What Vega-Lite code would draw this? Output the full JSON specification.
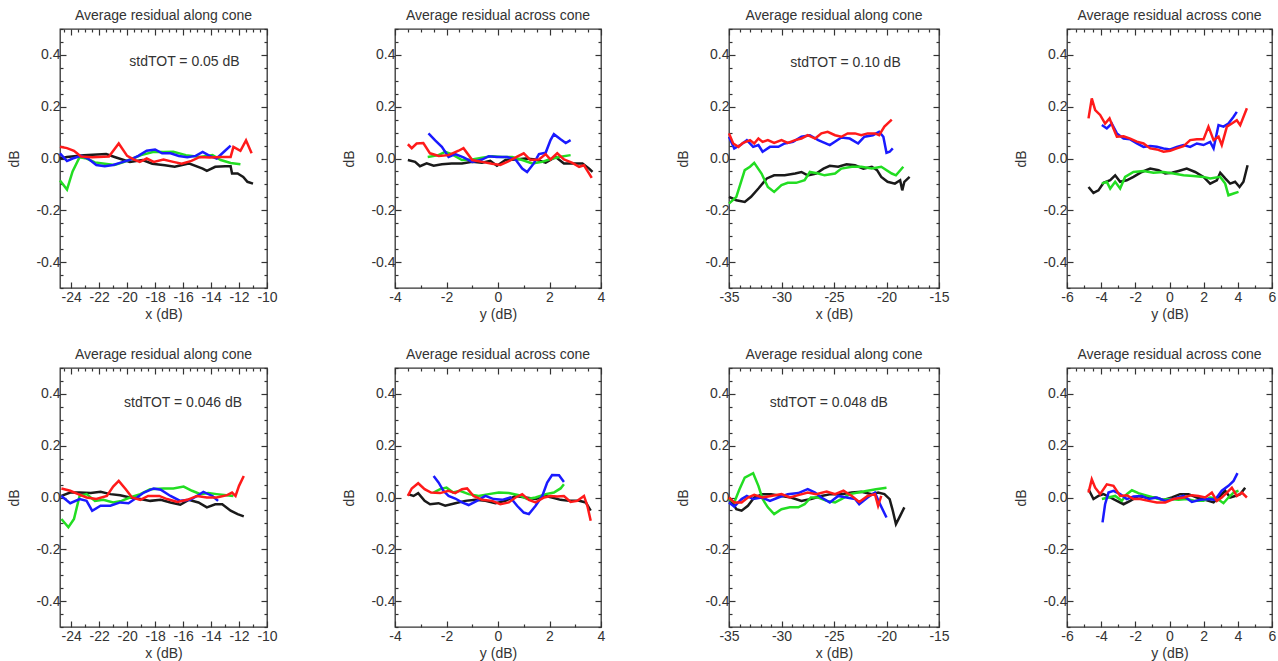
{
"$schema": "https://vega.github.io/schema/vega-lite/v6.json",
"padding": {"left": 7, "top": 8, "right": 0, "bottom": 0},
"background": "white",
"config": {
  "font": "Liberation Sans",
  "view": {"stroke": "#333333", "strokeWidth": 1.3},
  "title": {"font": "Liberation Sans", "fontSize": 14, "fontWeight": "normal", "color": "#333333", "offset": -1},
  "axis": {"domain": false, "grid": false, "labelFont": "Liberation Sans", "labelFontSize": 14, "labelColor": "#333333", "titleFont": "Liberation Sans", "titleFontSize": 14, "titleFontWeight": "normal", "titleColor": "#333333", "tickColor": "#333333", "tickWidth": 1.2, "labelOverlap": false, "labelFlush": false, "labelBound": false},
  "axisX": {"labelPadding": 8, "titlePadding": 0, "labelOverlap": false},
  "axisY": {"labelPadding": 6, "titlePadding": 14, "labelOverlap": false}
},
"datasets": {
"notes": [
{"p":1,"x":-15.9,"y":0.373,"label":"stdTOT = 0.05 dB"},
{"p":3,"x":-23.9,"y":0.37,"label":"stdTOT = 0.10  dB"},
{"p":5,"x":-16.0,"y":0.365,"label":"stdTOT = 0.046 dB"},
{"p":7,"x":-25.5,"y":0.365,"label":"stdTOT = 0.048 dB"}
],
"lines": [
{"p":1,"s":"black","x":-24.8,"y":0.0},{"p":1,"s":"black","x":-24.3,"y":0.006},{"p":1,"s":"black","x":-23.1,"y":0.013},{"p":1,"s":"black","x":-21.5,"y":0.017},{"p":1,"s":"black","x":-20.9,"y":0.006},{"p":1,"s":"black","x":-19.8,"y":-0.013},{"p":1,"s":"black","x":-18.9,"y":-0.006},{"p":1,"s":"black","x":-18.2,"y":-0.02},{"p":1,"s":"black","x":-17.3,"y":-0.026},{"p":1,"s":"black","x":-16.6,"y":-0.032},{"p":1,"s":"black","x":-15.6,"y":-0.019},{"p":1,"s":"black","x":-14.6,"y":-0.039},{"p":1,"s":"black","x":-14.3,"y":-0.048},{"p":1,"s":"black","x":-13.7,"y":-0.032},{"p":1,"s":"black","x":-13.0,"y":-0.03},{"p":1,"s":"black","x":-12.6,"y":-0.03},{"p":1,"s":"black","x":-12.5,"y":-0.058},{"p":1,"s":"black","x":-12.1,"y":-0.058},{"p":1,"s":"black","x":-11.7,"y":-0.071},{"p":1,"s":"black","x":-11.4,"y":-0.09},{"p":1,"s":"black","x":-11.0,"y":-0.097},
{"p":1,"s":"green","x":-24.8,"y":-0.085},{"p":1,"s":"green","x":-24.3,"y":-0.12},{"p":1,"s":"green","x":-23.9,"y":-0.05},{"p":1,"s":"green","x":-23.4,"y":0.005},{"p":1,"s":"green","x":-22.9,"y":0.0},{"p":1,"s":"green","x":-22.3,"y":-0.015},{"p":1,"s":"green","x":-21.6,"y":-0.02},{"p":1,"s":"green","x":-20.9,"y":-0.025},{"p":1,"s":"green","x":-20.3,"y":-0.015},{"p":1,"s":"green","x":-19.6,"y":0.0},{"p":1,"s":"green","x":-19.0,"y":0.013},{"p":1,"s":"green","x":-18.1,"y":0.026},{"p":1,"s":"green","x":-17.4,"y":0.025},{"p":1,"s":"green","x":-16.7,"y":0.026},{"p":1,"s":"green","x":-15.8,"y":0.013},{"p":1,"s":"green","x":-14.8,"y":0.006},{"p":1,"s":"green","x":-13.9,"y":0.013},{"p":1,"s":"green","x":-13.3,"y":-0.006},{"p":1,"s":"green","x":-12.6,"y":-0.017},{"p":1,"s":"green","x":-11.9,"y":-0.022},
{"p":1,"s":"blue","x":-24.8,"y":0.02},{"p":1,"s":"blue","x":-24.3,"y":-0.01},{"p":1,"s":"blue","x":-23.9,"y":0.0},{"p":1,"s":"blue","x":-23.3,"y":0.01},{"p":1,"s":"blue","x":-22.8,"y":0.0},{"p":1,"s":"blue","x":-22.2,"y":-0.025},{"p":1,"s":"blue","x":-21.6,"y":-0.03},{"p":1,"s":"blue","x":-21.0,"y":-0.025},{"p":1,"s":"blue","x":-20.4,"y":-0.015},{"p":1,"s":"blue","x":-19.8,"y":-0.005},{"p":1,"s":"blue","x":-19.2,"y":0.01},{"p":1,"s":"blue","x":-18.6,"y":0.03},{"p":1,"s":"blue","x":-18.0,"y":0.035},{"p":1,"s":"blue","x":-17.5,"y":0.02},{"p":1,"s":"blue","x":-16.9,"y":0.02},{"p":1,"s":"blue","x":-16.3,"y":0.01},{"p":1,"s":"blue","x":-15.7,"y":0.005},{"p":1,"s":"blue","x":-15.1,"y":0.01},{"p":1,"s":"blue","x":-14.6,"y":0.025},{"p":1,"s":"blue","x":-14.1,"y":0.01},{"p":1,"s":"blue","x":-13.6,"y":0.0},{"p":1,"s":"blue","x":-13.0,"y":0.03},{"p":1,"s":"blue","x":-12.6,"y":0.05},
{"p":1,"s":"red","x":-24.8,"y":0.045},{"p":1,"s":"red","x":-24.3,"y":0.04},{"p":1,"s":"red","x":-23.8,"y":0.03},{"p":1,"s":"red","x":-23.3,"y":0.008},{"p":1,"s":"red","x":-22.5,"y":0.005},{"p":1,"s":"red","x":-21.3,"y":0.008},{"p":1,"s":"red","x":-20.6,"y":0.058},{"p":1,"s":"red","x":-20.0,"y":0.01},{"p":1,"s":"red","x":-19.5,"y":-0.004},{"p":1,"s":"red","x":-19.1,"y":-0.013},{"p":1,"s":"red","x":-18.6,"y":0.0},{"p":1,"s":"red","x":-18.1,"y":-0.013},{"p":1,"s":"red","x":-17.4,"y":-0.004},{"p":1,"s":"red","x":-16.7,"y":-0.013},{"p":1,"s":"red","x":-16.1,"y":-0.02},{"p":1,"s":"red","x":-15.4,"y":-0.009},{"p":1,"s":"red","x":-14.8,"y":0.006},{"p":1,"s":"red","x":-14.1,"y":0.004},{"p":1,"s":"red","x":-13.3,"y":0.006},{"p":1,"s":"red","x":-12.6,"y":0.006},{"p":1,"s":"red","x":-12.4,"y":0.045},{"p":1,"s":"red","x":-11.9,"y":0.03},{"p":1,"s":"red","x":-11.5,"y":0.07},{"p":1,"s":"red","x":-11.1,"y":0.02},

{"p":2,"s":"black","x":-3.5,"y":-0.006},{"p":2,"s":"black","x":-3.22,"y":-0.013},{"p":2,"s":"black","x":-3.03,"y":-0.03},{"p":2,"s":"black","x":-2.77,"y":-0.019},{"p":2,"s":"black","x":-2.5,"y":-0.028},{"p":2,"s":"black","x":-2.18,"y":-0.022},{"p":2,"s":"black","x":-1.8,"y":-0.019},{"p":2,"s":"black","x":-1.4,"y":-0.019},{"p":2,"s":"black","x":-1.0,"y":-0.013},{"p":2,"s":"black","x":-0.62,"y":-0.016},{"p":2,"s":"black","x":-0.3,"y":-0.009},{"p":2,"s":"black","x":-0.04,"y":-0.028},{"p":2,"s":"black","x":0.29,"y":-0.006},{"p":2,"s":"black","x":0.68,"y":-0.004},{"p":2,"s":"black","x":1.07,"y":0.0},{"p":2,"s":"black","x":1.46,"y":-0.004},{"p":2,"s":"black","x":1.85,"y":-0.016},{"p":2,"s":"black","x":2.24,"y":0.006},{"p":2,"s":"black","x":2.56,"y":-0.019},{"p":2,"s":"black","x":2.95,"y":-0.019},{"p":2,"s":"black","x":3.28,"y":-0.019},{"p":2,"s":"black","x":3.54,"y":-0.039},{"p":2,"s":"black","x":3.67,"y":-0.052},
{"p":2,"s":"green","x":-2.73,"y":0.006},{"p":2,"s":"green","x":-2.31,"y":0.013},{"p":2,"s":"green","x":-2.05,"y":0.026},{"p":2,"s":"green","x":-1.8,"y":0.017},{"p":2,"s":"green","x":-1.4,"y":-0.006},{"p":2,"s":"green","x":-1.0,"y":-0.004},{"p":2,"s":"green","x":-0.62,"y":0.003},{"p":2,"s":"green","x":-0.23,"y":0.009},{"p":2,"s":"green","x":0.16,"y":0.006},{"p":2,"s":"green","x":0.55,"y":0.006},{"p":2,"s":"green","x":0.94,"y":-0.006},{"p":2,"s":"green","x":1.33,"y":-0.019},{"p":2,"s":"green","x":1.72,"y":-0.013},{"p":2,"s":"green","x":1.98,"y":-0.004},{"p":2,"s":"green","x":2.37,"y":0.006},{"p":2,"s":"green","x":2.82,"y":0.013},
{"p":2,"s":"blue","x":-2.7,"y":0.097},{"p":2,"s":"blue","x":-2.44,"y":0.07},{"p":2,"s":"blue","x":-2.18,"y":0.045},{"p":2,"s":"blue","x":-1.92,"y":0.006},{"p":2,"s":"blue","x":-1.66,"y":0.017},{"p":2,"s":"blue","x":-1.34,"y":0.004},{"p":2,"s":"blue","x":-1.0,"y":-0.013},{"p":2,"s":"blue","x":-0.62,"y":-0.004},{"p":2,"s":"blue","x":-0.36,"y":0.009},{"p":2,"s":"blue","x":-0.04,"y":0.006},{"p":2,"s":"blue","x":0.35,"y":0.006},{"p":2,"s":"blue","x":0.68,"y":-0.004},{"p":2,"s":"blue","x":0.94,"y":-0.039},{"p":2,"s":"blue","x":1.13,"y":-0.052},{"p":2,"s":"blue","x":1.39,"y":-0.019},{"p":2,"s":"blue","x":1.59,"y":0.017},{"p":2,"s":"blue","x":1.85,"y":0.022},{"p":2,"s":"blue","x":2.04,"y":0.071},{"p":2,"s":"blue","x":2.17,"y":0.094},{"p":2,"s":"blue","x":2.43,"y":0.074},{"p":2,"s":"blue","x":2.63,"y":0.06},{"p":2,"s":"blue","x":2.82,"y":0.071},
{"p":2,"s":"red","x":-3.5,"y":0.055},{"p":2,"s":"red","x":-3.35,"y":0.04},{"p":2,"s":"red","x":-3.16,"y":0.058},{"p":2,"s":"red","x":-2.9,"y":0.06},{"p":2,"s":"red","x":-2.64,"y":0.02},{"p":2,"s":"red","x":-2.3,"y":0.01},{"p":2,"s":"red","x":-1.92,"y":0.013},{"p":2,"s":"red","x":-1.53,"y":0.03},{"p":2,"s":"red","x":-1.34,"y":0.04},{"p":2,"s":"red","x":-1.0,"y":-0.006},{"p":2,"s":"red","x":-0.62,"y":-0.013},{"p":2,"s":"red","x":-0.23,"y":-0.02},{"p":2,"s":"red","x":0.09,"y":-0.025},{"p":2,"s":"red","x":0.42,"y":-0.01},{"p":2,"s":"red","x":0.8,"y":0.01},{"p":2,"s":"red","x":1.0,"y":0.02},{"p":2,"s":"red","x":1.26,"y":-0.006},{"p":2,"s":"red","x":1.59,"y":-0.004},{"p":2,"s":"red","x":1.85,"y":0.017},{"p":2,"s":"red","x":2.04,"y":-0.004},{"p":2,"s":"red","x":2.3,"y":0.02},{"p":2,"s":"red","x":2.56,"y":-0.004},{"p":2,"s":"red","x":2.89,"y":-0.017},{"p":2,"s":"red","x":3.15,"y":-0.032},{"p":2,"s":"red","x":3.34,"y":-0.026},{"p":2,"s":"red","x":3.54,"y":-0.058},{"p":2,"s":"red","x":3.64,"y":-0.075},

{"p":3,"s":"black","x":-35,"y":-0.148},{"p":3,"s":"black","x":-34.3,"y":-0.161},{"p":3,"s":"black","x":-33.5,"y":-0.168},{"p":3,"s":"black","x":-32.9,"y":-0.148},{"p":3,"s":"black","x":-32.2,"y":-0.116},{"p":3,"s":"black","x":-31.4,"y":-0.077},{"p":3,"s":"black","x":-30.7,"y":-0.065},{"p":3,"s":"black","x":-29.7,"y":-0.065},{"p":3,"s":"black","x":-28.7,"y":-0.058},{"p":3,"s":"black","x":-28.1,"y":-0.052},{"p":3,"s":"black","x":-27.5,"y":-0.065},{"p":3,"s":"black","x":-26.7,"y":-0.058},{"p":3,"s":"black","x":-26.0,"y":-0.039},{"p":3,"s":"black","x":-25.4,"y":-0.028},{"p":3,"s":"black","x":-24.6,"y":-0.032},{"p":3,"s":"black","x":-23.8,"y":-0.022},{"p":3,"s":"black","x":-23.0,"y":-0.026},{"p":3,"s":"black","x":-22.2,"y":-0.039},{"p":3,"s":"black","x":-21.4,"y":-0.032},{"p":3,"s":"black","x":-20.9,"y":-0.045},{"p":3,"s":"black","x":-20.5,"y":-0.071},{"p":3,"s":"black","x":-19.9,"y":-0.09},{"p":3,"s":"black","x":-19.2,"y":-0.097},{"p":3,"s":"black","x":-18.7,"y":-0.084},{"p":3,"s":"black","x":-18.5,"y":-0.123},{"p":3,"s":"black","x":-18.3,"y":-0.09},{"p":3,"s":"black","x":-17.8,"y":-0.071},
{"p":3,"s":"green","x":-35,"y":-0.174},{"p":3,"s":"green","x":-34.3,"y":-0.148},{"p":3,"s":"green","x":-33.5,"y":-0.045},{"p":3,"s":"green","x":-33.0,"y":-0.032},{"p":3,"s":"green","x":-32.6,"y":-0.017},{"p":3,"s":"green","x":-31.9,"y":-0.058},{"p":3,"s":"green","x":-31.3,"y":-0.11},{"p":3,"s":"green","x":-30.7,"y":-0.129},{"p":3,"s":"green","x":-30.0,"y":-0.103},{"p":3,"s":"green","x":-29.4,"y":-0.094},{"p":3,"s":"green","x":-28.6,"y":-0.094},{"p":3,"s":"green","x":-27.8,"y":-0.084},{"p":3,"s":"green","x":-27.3,"y":-0.052},{"p":3,"s":"green","x":-26.5,"y":-0.058},{"p":3,"s":"green","x":-25.9,"y":-0.065},{"p":3,"s":"green","x":-24.9,"y":-0.058},{"p":3,"s":"green","x":-24.3,"y":-0.039},{"p":3,"s":"green","x":-23.3,"y":-0.032},{"p":3,"s":"green","x":-22.4,"y":-0.032},{"p":3,"s":"green","x":-21.4,"y":-0.039},{"p":3,"s":"green","x":-20.5,"y":-0.032},{"p":3,"s":"green","x":-19.5,"y":-0.058},{"p":3,"s":"green","x":-19.1,"y":-0.065},{"p":3,"s":"green","x":-18.4,"y":-0.032},
{"p":3,"s":"blue","x":-35,"y":0.084},{"p":3,"s":"blue","x":-34.5,"y":0.039},{"p":3,"s":"blue","x":-33.8,"y":0.055},{"p":3,"s":"blue","x":-33.3,"y":0.071},{"p":3,"s":"blue","x":-32.7,"y":0.045},{"p":3,"s":"blue","x":-32.2,"y":0.052},{"p":3,"s":"blue","x":-31.8,"y":0.026},{"p":3,"s":"blue","x":-31.1,"y":0.045},{"p":3,"s":"blue","x":-30.3,"y":0.045},{"p":3,"s":"blue","x":-29.7,"y":0.058},{"p":3,"s":"blue","x":-28.9,"y":0.064},{"p":3,"s":"blue","x":-28.1,"y":0.084},{"p":3,"s":"blue","x":-27.3,"y":0.09},{"p":3,"s":"blue","x":-26.5,"y":0.071},{"p":3,"s":"blue","x":-25.4,"y":0.052},{"p":3,"s":"blue","x":-24.3,"y":0.081},{"p":3,"s":"blue","x":-23.5,"y":0.077},{"p":3,"s":"blue","x":-22.7,"y":0.058},{"p":3,"s":"blue","x":-22.1,"y":0.084},{"p":3,"s":"blue","x":-21.3,"y":0.09},{"p":3,"s":"blue","x":-20.7,"y":0.103},{"p":3,"s":"blue","x":-20.3,"y":0.084},{"p":3,"s":"blue","x":-20.0,"y":0.022},{"p":3,"s":"blue","x":-19.7,"y":0.026},{"p":3,"s":"blue","x":-19.4,"y":0.039},
{"p":3,"s":"red","x":-35,"y":0.097},{"p":3,"s":"red","x":-34.6,"y":0.058},{"p":3,"s":"red","x":-34.1,"y":0.045},{"p":3,"s":"red","x":-33.7,"y":0.06},{"p":3,"s":"red","x":-33.0,"y":0.071},{"p":3,"s":"red","x":-32.6,"y":0.058},{"p":3,"s":"red","x":-32.2,"y":0.077},{"p":3,"s":"red","x":-31.8,"y":0.064},{"p":3,"s":"red","x":-31.3,"y":0.071},{"p":3,"s":"red","x":-30.7,"y":0.06},{"p":3,"s":"red","x":-30.0,"y":0.071},{"p":3,"s":"red","x":-29.4,"y":0.06},{"p":3,"s":"red","x":-28.7,"y":0.071},{"p":3,"s":"red","x":-28.1,"y":0.077},{"p":3,"s":"red","x":-27.5,"y":0.09},{"p":3,"s":"red","x":-26.8,"y":0.077},{"p":3,"s":"red","x":-26.2,"y":0.097},{"p":3,"s":"red","x":-25.6,"y":0.103},{"p":3,"s":"red","x":-24.9,"y":0.09},{"p":3,"s":"red","x":-24.3,"y":0.084},{"p":3,"s":"red","x":-23.7,"y":0.097},{"p":3,"s":"red","x":-23.0,"y":0.097},{"p":3,"s":"red","x":-22.4,"y":0.09},{"p":3,"s":"red","x":-21.8,"y":0.097},{"p":3,"s":"red","x":-21.1,"y":0.097},{"p":3,"s":"red","x":-20.7,"y":0.09},{"p":3,"s":"red","x":-20.2,"y":0.123},{"p":3,"s":"red","x":-19.5,"y":0.15},

{"p":4,"s":"black","x":-4.74,"y":-0.11},{"p":4,"s":"black","x":-4.45,"y":-0.133},{"p":4,"s":"black","x":-4.16,"y":-0.123},{"p":4,"s":"black","x":-3.86,"y":-0.094},{"p":4,"s":"black","x":-3.47,"y":-0.084},{"p":4,"s":"black","x":-3.18,"y":-0.065},{"p":4,"s":"black","x":-2.89,"y":-0.09},{"p":4,"s":"black","x":-2.5,"y":-0.084},{"p":4,"s":"black","x":-2.11,"y":-0.071},{"p":4,"s":"black","x":-1.62,"y":-0.052},{"p":4,"s":"black","x":-1.13,"y":-0.039},{"p":4,"s":"black","x":-0.64,"y":-0.045},{"p":4,"s":"black","x":-0.25,"y":-0.058},{"p":4,"s":"black","x":0.14,"y":-0.055},{"p":4,"s":"black","x":0.53,"y":-0.048},{"p":4,"s":"black","x":1.01,"y":-0.039},{"p":4,"s":"black","x":1.5,"y":-0.052},{"p":4,"s":"black","x":1.99,"y":-0.071},{"p":4,"s":"black","x":2.38,"y":-0.097},{"p":4,"s":"black","x":2.77,"y":-0.084},{"p":4,"s":"black","x":2.97,"y":-0.055},{"p":4,"s":"black","x":3.26,"y":-0.077},{"p":4,"s":"black","x":3.55,"y":-0.097},{"p":4,"s":"black","x":3.84,"y":-0.09},{"p":4,"s":"black","x":4.1,"y":-0.11},{"p":4,"s":"black","x":4.33,"y":-0.09},{"p":4,"s":"black","x":4.57,"y":-0.026},
{"p":4,"s":"green","x":-3.96,"y":-0.097},{"p":4,"s":"green","x":-3.67,"y":-0.09},{"p":4,"s":"green","x":-3.47,"y":-0.116},{"p":4,"s":"green","x":-3.18,"y":-0.09},{"p":4,"s":"green","x":-2.89,"y":-0.116},{"p":4,"s":"green","x":-2.6,"y":-0.071},{"p":4,"s":"green","x":-2.11,"y":-0.052},{"p":4,"s":"green","x":-1.52,"y":-0.048},{"p":4,"s":"green","x":-0.94,"y":-0.055},{"p":4,"s":"green","x":-0.35,"y":-0.052},{"p":4,"s":"green","x":0.23,"y":-0.058},{"p":4,"s":"green","x":0.82,"y":-0.065},{"p":4,"s":"green","x":1.4,"y":-0.068},{"p":4,"s":"green","x":1.99,"y":-0.071},{"p":4,"s":"green","x":2.38,"y":-0.077},{"p":4,"s":"green","x":2.97,"y":-0.071},{"p":4,"s":"green","x":3.26,"y":-0.097},{"p":4,"s":"green","x":3.45,"y":-0.142},{"p":4,"s":"green","x":3.75,"y":-0.135},{"p":4,"s":"green","x":4.04,"y":-0.129},
{"p":4,"s":"blue","x":-3.96,"y":0.129},{"p":4,"s":"blue","x":-3.67,"y":0.116},{"p":4,"s":"blue","x":-3.38,"y":0.135},{"p":4,"s":"blue","x":-3.08,"y":0.097},{"p":4,"s":"blue","x":-2.69,"y":0.077},{"p":4,"s":"blue","x":-2.3,"y":0.074},{"p":4,"s":"blue","x":-1.91,"y":0.058},{"p":4,"s":"blue","x":-1.52,"y":0.045},{"p":4,"s":"blue","x":-1.13,"y":0.048},{"p":4,"s":"blue","x":-0.74,"y":0.045},{"p":4,"s":"blue","x":-0.35,"y":0.039},{"p":4,"s":"blue","x":0.04,"y":0.035},{"p":4,"s":"blue","x":0.43,"y":0.045},{"p":4,"s":"blue","x":0.82,"y":0.052},{"p":4,"s":"blue","x":1.21,"y":0.045},{"p":4,"s":"blue","x":1.6,"y":0.058},{"p":4,"s":"blue","x":1.99,"y":0.052},{"p":4,"s":"blue","x":2.38,"y":0.064},{"p":4,"s":"blue","x":2.58,"y":0.039},{"p":4,"s":"blue","x":2.87,"y":0.129},{"p":4,"s":"blue","x":3.16,"y":0.123},{"p":4,"s":"blue","x":3.45,"y":0.135},{"p":4,"s":"blue","x":3.75,"y":0.161},{"p":4,"s":"blue","x":3.94,"y":0.18},
{"p":4,"s":"red","x":-4.74,"y":0.155},{"p":4,"s":"red","x":-4.55,"y":0.232},{"p":4,"s":"red","x":-4.35,"y":0.187},{"p":4,"s":"red","x":-4.06,"y":0.168},{"p":4,"s":"red","x":-3.77,"y":0.135},{"p":4,"s":"red","x":-3.51,"y":0.155},{"p":4,"s":"red","x":-3.28,"y":0.116},{"p":4,"s":"red","x":-3.08,"y":0.084},{"p":4,"s":"red","x":-2.69,"y":0.086},{"p":4,"s":"red","x":-2.3,"y":0.077},{"p":4,"s":"red","x":-1.91,"y":0.065},{"p":4,"s":"red","x":-1.52,"y":0.058},{"p":4,"s":"red","x":-1.13,"y":0.039},{"p":4,"s":"red","x":-0.74,"y":0.035},{"p":4,"s":"red","x":-0.35,"y":0.026},{"p":4,"s":"red","x":0.04,"y":0.03},{"p":4,"s":"red","x":0.43,"y":0.039},{"p":4,"s":"red","x":0.82,"y":0.048},{"p":4,"s":"red","x":1.21,"y":0.071},{"p":4,"s":"red","x":1.6,"y":0.074},{"p":4,"s":"red","x":1.99,"y":0.074},{"p":4,"s":"red","x":2.28,"y":0.123},{"p":4,"s":"red","x":2.58,"y":0.071},{"p":4,"s":"red","x":2.87,"y":0.084},{"p":4,"s":"red","x":3.06,"y":0.052},{"p":4,"s":"red","x":3.36,"y":0.123},{"p":4,"s":"red","x":3.65,"y":0.135},{"p":4,"s":"red","x":3.94,"y":0.148},{"p":4,"s":"red","x":4.14,"y":0.129},{"p":4,"s":"red","x":4.53,"y":0.194},

{"p":5,"s":"black","x":-24.7,"y":0.006},{"p":5,"s":"black","x":-24.07,"y":0.019},{"p":5,"s":"black","x":-23.4,"y":0.019},{"p":5,"s":"black","x":-22.6,"y":0.017},{"p":5,"s":"black","x":-21.9,"y":0.022},{"p":5,"s":"black","x":-21.2,"y":0.013},{"p":5,"s":"black","x":-20.5,"y":0.009},{"p":5,"s":"black","x":-19.8,"y":0.0},{"p":5,"s":"black","x":-19.06,"y":-0.006},{"p":5,"s":"black","x":-18.35,"y":-0.013},{"p":5,"s":"black","x":-17.6,"y":-0.009},{"p":5,"s":"black","x":-16.9,"y":-0.019},{"p":5,"s":"black","x":-16.2,"y":-0.028},{"p":5,"s":"black","x":-15.6,"y":-0.009},{"p":5,"s":"black","x":-14.9,"y":-0.019},{"p":5,"s":"black","x":-14.3,"y":-0.038},{"p":5,"s":"black","x":-13.7,"y":-0.026},{"p":5,"s":"black","x":-13.2,"y":-0.026},{"p":5,"s":"black","x":-12.6,"y":-0.051},{"p":5,"s":"black","x":-12.1,"y":-0.064},{"p":5,"s":"black","x":-11.66,"y":-0.073},
{"p":5,"s":"green","x":-24.7,"y":-0.083},{"p":5,"s":"green","x":-24.2,"y":-0.115},{"p":5,"s":"green","x":-23.8,"y":-0.083},{"p":5,"s":"green","x":-23.4,"y":0.006},{"p":5,"s":"green","x":-22.9,"y":0.013},{"p":5,"s":"green","x":-22.3,"y":-0.013},{"p":5,"s":"green","x":-21.7,"y":-0.009},{"p":5,"s":"green","x":-21.0,"y":-0.019},{"p":5,"s":"green","x":-20.4,"y":-0.013},{"p":5,"s":"green","x":-19.8,"y":0.0},{"p":5,"s":"green","x":-19.06,"y":0.013},{"p":5,"s":"green","x":-18.35,"y":0.032},{"p":5,"s":"green","x":-17.4,"y":0.035},{"p":5,"s":"green","x":-16.7,"y":0.035},{"p":5,"s":"green","x":-15.96,"y":0.042},{"p":5,"s":"green","x":-15.36,"y":0.026},{"p":5,"s":"green","x":-14.76,"y":0.013},{"p":5,"s":"green","x":-14.2,"y":0.017},{"p":5,"s":"green","x":-13.6,"y":0.013},{"p":5,"s":"green","x":-12.9,"y":0.009},{"p":5,"s":"green","x":-12.4,"y":0.006},
{"p":5,"s":"blue","x":-24.7,"y":0.006},{"p":5,"s":"blue","x":-24.07,"y":-0.022},{"p":5,"s":"blue","x":-23.4,"y":-0.006},{"p":5,"s":"blue","x":-22.9,"y":-0.013},{"p":5,"s":"blue","x":-22.5,"y":-0.051},{"p":5,"s":"blue","x":-21.9,"y":-0.032},{"p":5,"s":"blue","x":-21.2,"y":-0.032},{"p":5,"s":"blue","x":-20.5,"y":-0.019},{"p":5,"s":"blue","x":-19.9,"y":-0.022},{"p":5,"s":"blue","x":-19.3,"y":0.0},{"p":5,"s":"blue","x":-18.8,"y":0.019},{"p":5,"s":"blue","x":-18.1,"y":0.035},{"p":5,"s":"blue","x":-17.6,"y":0.03},{"p":5,"s":"blue","x":-16.9,"y":0.006},{"p":5,"s":"blue","x":-16.2,"y":-0.013},{"p":5,"s":"blue","x":-15.5,"y":-0.009},{"p":5,"s":"blue","x":-15.0,"y":0.006},{"p":5,"s":"blue","x":-14.55,"y":0.022},{"p":5,"s":"blue","x":-13.9,"y":0.006},{"p":5,"s":"blue","x":-13.5,"y":-0.013},
{"p":5,"s":"red","x":-24.7,"y":0.035},{"p":5,"s":"red","x":-24.07,"y":0.026},{"p":5,"s":"red","x":-23.5,"y":0.013},{"p":5,"s":"red","x":-22.9,"y":0.0},{"p":5,"s":"red","x":-22.2,"y":-0.006},{"p":5,"s":"red","x":-21.45,"y":0.006},{"p":5,"s":"red","x":-21.0,"y":0.042},{"p":5,"s":"red","x":-20.6,"y":0.064},{"p":5,"s":"red","x":-20.1,"y":0.032},{"p":5,"s":"red","x":-19.65,"y":0.0},{"p":5,"s":"red","x":-19.06,"y":-0.009},{"p":5,"s":"red","x":-18.5,"y":0.006},{"p":5,"s":"red","x":-17.7,"y":0.006},{"p":5,"s":"red","x":-17.15,"y":-0.006},{"p":5,"s":"red","x":-16.4,"y":-0.017},{"p":5,"s":"red","x":-15.7,"y":-0.009},{"p":5,"s":"red","x":-15.0,"y":0.006},{"p":5,"s":"red","x":-14.3,"y":0.0},{"p":5,"s":"red","x":-13.6,"y":0.0},{"p":5,"s":"red","x":-12.85,"y":0.009},{"p":5,"s":"red","x":-12.5,"y":0.019},{"p":5,"s":"red","x":-12.25,"y":0.006},{"p":5,"s":"red","x":-12.0,"y":0.045},{"p":5,"s":"red","x":-11.66,"y":0.083},

{"p":6,"s":"black","x":-3.5,"y":0.013},{"p":6,"s":"black","x":-3.28,"y":0.006},{"p":6,"s":"black","x":-3.1,"y":0.017},{"p":6,"s":"black","x":-2.85,"y":-0.013},{"p":6,"s":"black","x":-2.64,"y":-0.026},{"p":6,"s":"black","x":-2.31,"y":-0.022},{"p":6,"s":"black","x":-2.05,"y":-0.032},{"p":6,"s":"black","x":-1.66,"y":-0.022},{"p":6,"s":"black","x":-1.27,"y":-0.013},{"p":6,"s":"black","x":-0.88,"y":-0.009},{"p":6,"s":"black","x":-0.49,"y":-0.013},{"p":6,"s":"black","x":-0.1,"y":-0.022},{"p":6,"s":"black","x":0.29,"y":-0.013},{"p":6,"s":"black","x":0.68,"y":0.006},{"p":6,"s":"black","x":1.07,"y":0.0},{"p":6,"s":"black","x":1.46,"y":-0.006},{"p":6,"s":"black","x":1.85,"y":0.006},{"p":6,"s":"black","x":2.1,"y":0.0},{"p":6,"s":"black","x":2.43,"y":-0.009},{"p":6,"s":"black","x":2.76,"y":-0.013},{"p":6,"s":"black","x":3.15,"y":-0.013},{"p":6,"s":"black","x":3.41,"y":-0.019},{"p":6,"s":"black","x":3.6,"y":-0.051},
{"p":6,"s":"green","x":-2.5,"y":0.019},{"p":6,"s":"green","x":-2.25,"y":0.032},{"p":6,"s":"green","x":-2.0,"y":0.038},{"p":6,"s":"green","x":-1.74,"y":0.019},{"p":6,"s":"green","x":-1.48,"y":0.026},{"p":6,"s":"green","x":-1.14,"y":0.013},{"p":6,"s":"green","x":-0.75,"y":0.006},{"p":6,"s":"green","x":-0.36,"y":0.013},{"p":6,"s":"green","x":0.03,"y":0.019},{"p":6,"s":"green","x":0.42,"y":0.017},{"p":6,"s":"green","x":0.81,"y":0.009},{"p":6,"s":"green","x":1.13,"y":-0.006},{"p":6,"s":"green","x":1.46,"y":0.0},{"p":6,"s":"green","x":1.85,"y":0.013},{"p":6,"s":"green","x":2.17,"y":0.019},{"p":6,"s":"green","x":2.43,"y":0.035},{"p":6,"s":"green","x":2.56,"y":0.051},
{"p":6,"s":"blue","x":-2.5,"y":0.083},{"p":6,"s":"blue","x":-2.31,"y":0.058},{"p":6,"s":"blue","x":-2.12,"y":0.026},{"p":6,"s":"blue","x":-1.92,"y":0.006},{"p":6,"s":"blue","x":-1.66,"y":-0.004},{"p":6,"s":"blue","x":-1.4,"y":-0.019},{"p":6,"s":"blue","x":-1.14,"y":-0.029},{"p":6,"s":"blue","x":-0.82,"y":-0.013},{"p":6,"s":"blue","x":-0.49,"y":0.006},{"p":6,"s":"blue","x":-0.17,"y":-0.006},{"p":6,"s":"blue","x":0.16,"y":-0.009},{"p":6,"s":"blue","x":0.48,"y":0.0},{"p":6,"s":"blue","x":0.74,"y":-0.032},{"p":6,"s":"blue","x":1.0,"y":-0.058},{"p":6,"s":"blue","x":1.2,"y":-0.064},{"p":6,"s":"blue","x":1.46,"y":-0.032},{"p":6,"s":"blue","x":1.72,"y":0.006},{"p":6,"s":"blue","x":1.91,"y":0.058},{"p":6,"s":"blue","x":2.1,"y":0.087},{"p":6,"s":"blue","x":2.37,"y":0.086},{"p":6,"s":"blue","x":2.56,"y":0.06},
{"p":6,"s":"red","x":-3.5,"y":0.006},{"p":6,"s":"red","x":-3.35,"y":0.035},{"p":6,"s":"red","x":-3.1,"y":0.055},{"p":6,"s":"red","x":-2.85,"y":0.032},{"p":6,"s":"red","x":-2.6,"y":0.019},{"p":6,"s":"red","x":-2.25,"y":0.017},{"p":6,"s":"red","x":-1.92,"y":0.026},{"p":6,"s":"red","x":-1.66,"y":0.017},{"p":6,"s":"red","x":-1.4,"y":0.032},{"p":6,"s":"red","x":-1.2,"y":0.035},{"p":6,"s":"red","x":-0.95,"y":0.006},{"p":6,"s":"red","x":-0.62,"y":-0.009},{"p":6,"s":"red","x":-0.23,"y":-0.013},{"p":6,"s":"red","x":0.09,"y":-0.026},{"p":6,"s":"red","x":0.42,"y":-0.019},{"p":6,"s":"red","x":0.68,"y":0.0},{"p":6,"s":"red","x":0.94,"y":0.013},{"p":6,"s":"red","x":1.2,"y":-0.009},{"p":6,"s":"red","x":1.46,"y":-0.019},{"p":6,"s":"red","x":1.79,"y":0.0},{"p":6,"s":"red","x":2.04,"y":0.006},{"p":6,"s":"red","x":2.3,"y":0.004},{"p":6,"s":"red","x":2.56,"y":0.006},{"p":6,"s":"red","x":2.82,"y":-0.017},{"p":6,"s":"red","x":3.08,"y":-0.013},{"p":6,"s":"red","x":3.34,"y":0.006},{"p":6,"s":"red","x":3.47,"y":-0.032},{"p":6,"s":"red","x":3.6,"y":-0.09},

{"p":7,"s":"black","x":-35,"y":0.0},{"p":7,"s":"black","x":-34.3,"y":-0.045},{"p":7,"s":"black","x":-33.8,"y":-0.051},{"p":7,"s":"black","x":-33.2,"y":-0.032},{"p":7,"s":"black","x":-32.6,"y":0.0},{"p":7,"s":"black","x":-31.8,"y":0.013},{"p":7,"s":"black","x":-31.0,"y":0.013},{"p":7,"s":"black","x":-30.0,"y":0.006},{"p":7,"s":"black","x":-29.1,"y":0.0},{"p":7,"s":"black","x":-28.1,"y":-0.013},{"p":7,"s":"black","x":-27.2,"y":-0.006},{"p":7,"s":"black","x":-26.2,"y":0.006},{"p":7,"s":"black","x":-25.3,"y":0.013},{"p":7,"s":"black","x":-24.3,"y":0.013},{"p":7,"s":"black","x":-23.3,"y":0.019},{"p":7,"s":"black","x":-22.4,"y":0.022},{"p":7,"s":"black","x":-21.4,"y":0.013},{"p":7,"s":"black","x":-20.8,"y":0.019},{"p":7,"s":"black","x":-20.2,"y":0.013},{"p":7,"s":"black","x":-19.7,"y":-0.006},{"p":7,"s":"black","x":-19.4,"y":-0.051},{"p":7,"s":"black","x":-19.1,"y":-0.103},{"p":7,"s":"black","x":-18.7,"y":-0.071},{"p":7,"s":"black","x":-18.3,"y":-0.038},
{"p":7,"s":"green","x":-35,"y":-0.006},{"p":7,"s":"green","x":-34.5,"y":-0.019},{"p":7,"s":"green","x":-34.0,"y":0.032},{"p":7,"s":"green","x":-33.5,"y":0.077},{"p":7,"s":"green","x":-32.7,"y":0.094},{"p":7,"s":"green","x":-32.2,"y":0.045},{"p":7,"s":"green","x":-31.8,"y":-0.006},{"p":7,"s":"green","x":-31.3,"y":-0.038},{"p":7,"s":"green","x":-30.7,"y":-0.064},{"p":7,"s":"green","x":-30.0,"y":-0.045},{"p":7,"s":"green","x":-29.2,"y":-0.038},{"p":7,"s":"green","x":-28.4,"y":-0.038},{"p":7,"s":"green","x":-27.8,"y":-0.026},{"p":7,"s":"green","x":-27.2,"y":0.0},{"p":7,"s":"green","x":-26.5,"y":0.0},{"p":7,"s":"green","x":-25.7,"y":-0.013},{"p":7,"s":"green","x":-24.9,"y":-0.019},{"p":7,"s":"green","x":-24.3,"y":-0.006},{"p":7,"s":"green","x":-23.5,"y":0.013},{"p":7,"s":"green","x":-22.7,"y":0.019},{"p":7,"s":"green","x":-21.8,"y":0.026},{"p":7,"s":"green","x":-21.0,"y":0.032},{"p":7,"s":"green","x":-20.0,"y":0.038},
{"p":7,"s":"blue","x":-35,"y":-0.019},{"p":7,"s":"blue","x":-34.5,"y":-0.035},{"p":7,"s":"blue","x":-33.8,"y":-0.006},{"p":7,"s":"blue","x":-33.3,"y":0.006},{"p":7,"s":"blue","x":-32.7,"y":-0.006},{"p":7,"s":"blue","x":-31.9,"y":0.0},{"p":7,"s":"blue","x":-31.1,"y":-0.013},{"p":7,"s":"blue","x":-30.3,"y":0.0},{"p":7,"s":"blue","x":-29.4,"y":0.013},{"p":7,"s":"blue","x":-28.4,"y":0.017},{"p":7,"s":"blue","x":-27.5,"y":0.032},{"p":7,"s":"blue","x":-26.8,"y":0.019},{"p":7,"s":"blue","x":-26.2,"y":0.0},{"p":7,"s":"blue","x":-25.4,"y":-0.019},{"p":7,"s":"blue","x":-24.6,"y":0.006},{"p":7,"s":"blue","x":-23.8,"y":0.0},{"p":7,"s":"blue","x":-23.0,"y":-0.006},{"p":7,"s":"blue","x":-22.6,"y":-0.026},{"p":7,"s":"blue","x":-21.8,"y":0.0},{"p":7,"s":"blue","x":-21.1,"y":0.019},{"p":7,"s":"blue","x":-20.7,"y":-0.019},{"p":7,"s":"blue","x":-20.0,"y":-0.077},
{"p":7,"s":"red","x":-35,"y":0.0},{"p":7,"s":"red","x":-34.5,"y":-0.019},{"p":7,"s":"red","x":-33.8,"y":-0.019},{"p":7,"s":"red","x":-33.2,"y":0.0},{"p":7,"s":"red","x":-32.6,"y":0.01},{"p":7,"s":"red","x":-31.8,"y":0.0},{"p":7,"s":"red","x":-31.0,"y":0.006},{"p":7,"s":"red","x":-30.0,"y":0.013},{"p":7,"s":"red","x":-29.2,"y":0.0},{"p":7,"s":"red","x":-28.4,"y":0.009},{"p":7,"s":"red","x":-27.5,"y":0.019},{"p":7,"s":"red","x":-26.7,"y":0.013},{"p":7,"s":"red","x":-25.7,"y":0.023},{"p":7,"s":"red","x":-24.9,"y":0.013},{"p":7,"s":"red","x":-24.1,"y":0.026},{"p":7,"s":"red","x":-23.3,"y":0.006},{"p":7,"s":"red","x":-22.6,"y":-0.017},{"p":7,"s":"red","x":-21.8,"y":0.006},{"p":7,"s":"red","x":-21.1,"y":0.013},{"p":7,"s":"red","x":-20.8,"y":-0.032},{"p":7,"s":"red","x":-20.5,"y":0.006},

{"p":8,"s":"black","x":-4.74,"y":0.032},{"p":8,"s":"black","x":-4.45,"y":-0.006},{"p":8,"s":"black","x":-4.16,"y":0.006},{"p":8,"s":"black","x":-3.86,"y":0.013},{"p":8,"s":"black","x":-3.47,"y":0.0},{"p":8,"s":"black","x":-3.08,"y":-0.013},{"p":8,"s":"black","x":-2.69,"y":-0.026},{"p":8,"s":"black","x":-2.3,"y":-0.013},{"p":8,"s":"black","x":-1.82,"y":0.006},{"p":8,"s":"black","x":-1.33,"y":0.0},{"p":8,"s":"black","x":-0.84,"y":0.0},{"p":8,"s":"black","x":-0.35,"y":-0.009},{"p":8,"s":"black","x":0.14,"y":0.0},{"p":8,"s":"black","x":0.62,"y":0.013},{"p":8,"s":"black","x":1.11,"y":0.013},{"p":8,"s":"black","x":1.6,"y":0.0},{"p":8,"s":"black","x":2.09,"y":-0.009},{"p":8,"s":"black","x":2.58,"y":-0.019},{"p":8,"s":"black","x":2.97,"y":0.006},{"p":8,"s":"black","x":3.26,"y":0.026},{"p":8,"s":"black","x":3.55,"y":0.0},{"p":8,"s":"black","x":3.84,"y":0.006},{"p":8,"s":"black","x":4.14,"y":0.013},{"p":8,"s":"black","x":4.43,"y":0.038},
{"p":8,"s":"green","x":-3.96,"y":-0.006},{"p":8,"s":"green","x":-3.57,"y":0.0},{"p":8,"s":"green","x":-3.18,"y":0.006},{"p":8,"s":"green","x":-2.79,"y":-0.013},{"p":8,"s":"green","x":-2.5,"y":0.013},{"p":8,"s":"green","x":-2.2,"y":0.028},{"p":8,"s":"green","x":-1.82,"y":0.017},{"p":8,"s":"green","x":-1.42,"y":0.009},{"p":8,"s":"green","x":-0.94,"y":0.0},{"p":8,"s":"green","x":-0.45,"y":-0.009},{"p":8,"s":"green","x":0.04,"y":-0.006},{"p":8,"s":"green","x":0.53,"y":-0.009},{"p":8,"s":"green","x":1.01,"y":-0.006},{"p":8,"s":"green","x":1.5,"y":-0.013},{"p":8,"s":"green","x":1.99,"y":-0.013},{"p":8,"s":"green","x":2.38,"y":0.0},{"p":8,"s":"green","x":2.77,"y":-0.004},{"p":8,"s":"green","x":3.16,"y":-0.022},{"p":8,"s":"green","x":3.45,"y":0.0},{"p":8,"s":"green","x":3.75,"y":0.019},{"p":8,"s":"green","x":4.04,"y":0.026},
{"p":8,"s":"blue","x":-3.92,"y":-0.096},{"p":8,"s":"blue","x":-3.77,"y":-0.026},{"p":8,"s":"blue","x":-3.57,"y":0.019},{"p":8,"s":"blue","x":-3.28,"y":0.026},{"p":8,"s":"blue","x":-2.89,"y":0.013},{"p":8,"s":"blue","x":-2.5,"y":-0.006},{"p":8,"s":"blue","x":-2.11,"y":0.004},{"p":8,"s":"blue","x":-1.62,"y":0.006},{"p":8,"s":"blue","x":-1.23,"y":-0.006},{"p":8,"s":"blue","x":-0.74,"y":0.0},{"p":8,"s":"blue","x":-0.25,"y":-0.013},{"p":8,"s":"blue","x":0.23,"y":-0.006},{"p":8,"s":"blue","x":0.82,"y":0.006},{"p":8,"s":"blue","x":1.31,"y":-0.017},{"p":8,"s":"blue","x":1.8,"y":-0.009},{"p":8,"s":"blue","x":2.28,"y":-0.006},{"p":8,"s":"blue","x":2.67,"y":-0.009},{"p":8,"s":"blue","x":3.06,"y":0.026},{"p":8,"s":"blue","x":3.45,"y":0.045},{"p":8,"s":"blue","x":3.75,"y":0.064},{"p":8,"s":"blue","x":3.98,"y":0.094},
{"p":8,"s":"red","x":-4.74,"y":0.019},{"p":8,"s":"red","x":-4.55,"y":0.07},{"p":8,"s":"red","x":-4.35,"y":0.038},{"p":8,"s":"red","x":-4.06,"y":0.013},{"p":8,"s":"red","x":-3.67,"y":0.051},{"p":8,"s":"red","x":-3.28,"y":0.045},{"p":8,"s":"red","x":-2.89,"y":0.006},{"p":8,"s":"red","x":-2.5,"y":0.009},{"p":8,"s":"red","x":-2.11,"y":-0.006},{"p":8,"s":"red","x":-1.72,"y":-0.006},{"p":8,"s":"red","x":-1.23,"y":-0.013},{"p":8,"s":"red","x":-0.74,"y":-0.019},{"p":8,"s":"red","x":-0.25,"y":-0.019},{"p":8,"s":"red","x":0.23,"y":-0.006},{"p":8,"s":"red","x":0.82,"y":0.0},{"p":8,"s":"red","x":1.31,"y":0.009},{"p":8,"s":"red","x":1.7,"y":0.006},{"p":8,"s":"red","x":2.09,"y":0.0},{"p":8,"s":"red","x":2.48,"y":0.019},{"p":8,"s":"red","x":2.77,"y":-0.013},{"p":8,"s":"red","x":3.06,"y":0.0},{"p":8,"s":"red","x":3.36,"y":0.019},{"p":8,"s":"red","x":3.65,"y":0.038},{"p":8,"s":"red","x":3.94,"y":0.006},{"p":8,"s":"red","x":4.24,"y":0.019},{"p":8,"s":"red","x":4.53,"y":0.0}
]
},
"columns": 4,
"spacing": {"row": 80, "column": 128},
"bounds": "flush",
"align": "each",
"concat": [
  {"width": 207, "height": 259, "title": "Average residual along cone",
   "layer": [
    {"data": {"name": "lines"}, "transform": [{"filter": "datum.p == 1"}], "mark": {"type": "line", "strokeWidth": 2.5},
     "encoding": {
      "x": {"field": "x", "type": "quantitative", "scale": {"domain": [-24.8, -10], "nice": false, "zero": false},
            "axis": {"title": "x (dB)", "labelOverlap": false, "values": [-24,-23.5,-23,-22.5,-22,-21.5,-21,-20.5,-20,-19.5,-19,-18.5,-18,-17.5,-17,-16.5,-16,-15.5,-15,-14.5,-14,-13.5,-13,-12.5,-12,-11.5,-11,-10.5,-10], "format": "d", "labelExpr": "abs(datum.value % 2) < 0.01 ? replace(datum.label, '−', '-') : ''", "tickSize": {"condition": {"test": "abs(datum.value % 2) < 0.01", "value": -6}, "value": -3}}},
      "y": {"field": "y", "type": "quantitative", "scale": {"domain": [-0.5, 0.5], "nice": false, "zero": false},
            "axis": {"title": "dB", "labelOverlap": false, "values": [-0.5,-0.45,-0.4,-0.35,-0.3,-0.25,-0.2,-0.15,-0.1,-0.05,0,0.05,0.1,0.15,0.2,0.25,0.3,0.35,0.4,0.45,0.5], "format": ".1f", "labelExpr": "abs(round(datum.value*100)) % 20 == 0 ? replace(datum.label, '−', '-') : ''", "tickSize": {"condition": {"test": "abs(round(datum.value*100)) % 20 == 0", "value": -6}, "value": -3}}},
      "color": {"field": "s", "type": "nominal", "scale": {"domain": ["red", "blue", "green", "black"], "range": ["#ff1a1a", "#1a1aff", "#22dd22", "#1a1a1a"]}, "legend": null}
     }},
    {"data": {"name": "lines"}, "transform": [{"filter": "datum.p == 1"}], "mark": {"type": "line", "opacity": 0},
     "encoding": {
      "x": {"field": "x", "type": "quantitative", "scale": {"domain": [-24.8, -10], "nice": false, "zero": false},
            "axis": {"orient": "top", "title": null, "labels": false, "values": [-24.5,-24,-23.5,-23,-22.5,-22,-21.5,-21,-20.5,-20,-19.5,-19,-18.5,-18,-17.5,-17,-16.5,-16,-15.5,-15,-14.5,-14,-13.5,-13,-12.5,-12,-11.5,-11,-10.5,-10], "tickSize": {"condition": {"test": "abs(datum.value % 2) < 0.01", "value": -6}, "value": -3}}},
      "y": {"field": "y", "type": "quantitative", "scale": {"domain": [-0.5, 0.5], "nice": false, "zero": false},
            "axis": {"orient": "right", "title": null, "labels": false, "values": [-0.5,-0.45,-0.4,-0.35,-0.3,-0.25,-0.2,-0.15,-0.1,-0.05,0,0.05,0.1,0.15,0.2,0.25,0.3,0.35,0.4,0.45,0.5], "tickSize": {"condition": {"test": "abs(round(datum.value*100)) % 20 == 0", "value": -6}, "value": -3}}},
      "detail": {"field": "s"}
     }},
    {"data": {"name": "notes"}, "transform": [{"filter": "datum.p == 1"}], "mark": {"type": "text", "font": "Liberation Sans", "fontSize": 14, "color": "#333333"},
     "encoding": {"x": {"field": "x", "type": "quantitative", "axis": null, "scale": {"domain": [-24.8, -10], "nice": false, "zero": false}}, "y": {"field": "y", "type": "quantitative", "axis": null, "scale": {"domain": [-0.5, 0.5], "nice": false, "zero": false}}, "text": {"field": "label"}}}
   ],
   "resolve": {"axis": {"x": "independent", "y": "independent"}}
  },
  {"width": 206, "height": 259, "title": "Average residual across cone",
   "layer": [
    {"data": {"name": "lines"}, "transform": [{"filter": "datum.p == 2"}], "mark": {"type": "line", "strokeWidth": 2.5},
     "encoding": {
      "x": {"field": "x", "type": "quantitative", "scale": {"domain": [-4, 4], "nice": false, "zero": false},
            "axis": {"title": "y (dB)", "labelOverlap": false, "values": [-4,-3.5,-3,-2.5,-2,-1.5,-1,-0.5,0,0.5,1,1.5,2,2.5,3,3.5,4], "format": "d", "labelExpr": "abs(datum.value % 2) < 0.01 ? replace(datum.label, '−', '-') : ''", "tickSize": {"condition": {"test": "abs(datum.value % 2) < 0.01", "value": -6}, "value": -3}}},
      "y": {"field": "y", "type": "quantitative", "scale": {"domain": [-0.5, 0.5], "nice": false, "zero": false},
            "axis": {"title": "dB", "labelOverlap": false, "values": [-0.5,-0.45,-0.4,-0.35,-0.3,-0.25,-0.2,-0.15,-0.1,-0.05,0,0.05,0.1,0.15,0.2,0.25,0.3,0.35,0.4,0.45,0.5], "format": ".1f", "labelExpr": "abs(round(datum.value*100)) % 20 == 0 ? replace(datum.label, '−', '-') : ''", "tickSize": {"condition": {"test": "abs(round(datum.value*100)) % 20 == 0", "value": -6}, "value": -3}}},
      "color": {"field": "s", "type": "nominal", "scale": {"domain": ["red", "blue", "green", "black"], "range": ["#ff1a1a", "#1a1aff", "#22dd22", "#1a1a1a"]}, "legend": null}
     }},
    {"data": {"name": "lines"}, "transform": [{"filter": "datum.p == 2"}], "mark": {"type": "line", "opacity": 0},
     "encoding": {
      "x": {"field": "x", "type": "quantitative", "scale": {"domain": [-4, 4], "nice": false, "zero": false},
            "axis": {"orient": "top", "title": null, "labels": false, "values": [-4,-3.5,-3,-2.5,-2,-1.5,-1,-0.5,0,0.5,1,1.5,2,2.5,3,3.5,4], "tickSize": {"condition": {"test": "abs(datum.value % 2) < 0.01", "value": -6}, "value": -3}}},
      "y": {"field": "y", "type": "quantitative", "scale": {"domain": [-0.5, 0.5], "nice": false, "zero": false},
            "axis": {"orient": "right", "title": null, "labels": false, "values": [-0.5,-0.45,-0.4,-0.35,-0.3,-0.25,-0.2,-0.15,-0.1,-0.05,0,0.05,0.1,0.15,0.2,0.25,0.3,0.35,0.4,0.45,0.5], "tickSize": {"condition": {"test": "abs(round(datum.value*100)) % 20 == 0", "value": -6}, "value": -3}}},
      "detail": {"field": "s"}
     }}
   ],
   "resolve": {"axis": {"x": "independent", "y": "independent"}}
  },
  {"width": 210, "height": 259, "title": "Average residual along cone",
   "layer": [
    {"data": {"name": "lines"}, "transform": [{"filter": "datum.p == 3"}], "mark": {"type": "line", "strokeWidth": 2.5},
     "encoding": {
      "x": {"field": "x", "type": "quantitative", "scale": {"domain": [-35, -15], "nice": false, "zero": false},
            "axis": {"title": "x (dB)", "labelOverlap": false, "values": [-35,-34,-33,-32,-31,-30,-29,-28,-27,-26,-25,-24,-23,-22,-21,-20,-19,-18,-17,-16,-15], "format": "d", "labelExpr": "abs(datum.value % 5) < 0.01 ? replace(datum.label, '−', '-') : ''", "tickSize": {"condition": {"test": "abs(datum.value % 5) < 0.01", "value": -6}, "value": -3}}},
      "y": {"field": "y", "type": "quantitative", "scale": {"domain": [-0.5, 0.5], "nice": false, "zero": false},
            "axis": {"title": "dB", "labelOverlap": false, "values": [-0.5,-0.45,-0.4,-0.35,-0.3,-0.25,-0.2,-0.15,-0.1,-0.05,0,0.05,0.1,0.15,0.2,0.25,0.3,0.35,0.4,0.45,0.5], "format": ".1f", "labelExpr": "abs(round(datum.value*100)) % 20 == 0 ? replace(datum.label, '−', '-') : ''", "tickSize": {"condition": {"test": "abs(round(datum.value*100)) % 20 == 0", "value": -6}, "value": -3}}},
      "color": {"field": "s", "type": "nominal", "scale": {"domain": ["red", "blue", "green", "black"], "range": ["#ff1a1a", "#1a1aff", "#22dd22", "#1a1a1a"]}, "legend": null}
     }},
    {"data": {"name": "lines"}, "transform": [{"filter": "datum.p == 3"}], "mark": {"type": "line", "opacity": 0},
     "encoding": {
      "x": {"field": "x", "type": "quantitative", "scale": {"domain": [-35, -15], "nice": false, "zero": false},
            "axis": {"orient": "top", "title": null, "labels": false, "values": [-35,-34,-33,-32,-31,-30,-29,-28,-27,-26,-25,-24,-23,-22,-21,-20,-19,-18,-17,-16,-15], "tickSize": {"condition": {"test": "abs(datum.value % 5) < 0.01", "value": -6}, "value": -3}}},
      "y": {"field": "y", "type": "quantitative", "scale": {"domain": [-0.5, 0.5], "nice": false, "zero": false},
            "axis": {"orient": "right", "title": null, "labels": false, "values": [-0.5,-0.45,-0.4,-0.35,-0.3,-0.25,-0.2,-0.15,-0.1,-0.05,0,0.05,0.1,0.15,0.2,0.25,0.3,0.35,0.4,0.45,0.5], "tickSize": {"condition": {"test": "abs(round(datum.value*100)) % 20 == 0", "value": -6}, "value": -3}}},
      "detail": {"field": "s"}
     }},
    {"data": {"name": "notes"}, "transform": [{"filter": "datum.p == 3"}], "mark": {"type": "text", "font": "Liberation Sans", "fontSize": 14, "color": "#333333"},
     "encoding": {"x": {"field": "x", "type": "quantitative", "axis": null, "scale": {"domain": [-35, -15], "nice": false, "zero": false}}, "y": {"field": "y", "type": "quantitative", "axis": null, "scale": {"domain": [-0.5, 0.5], "nice": false, "zero": false}}, "text": {"field": "label"}}}
   ],
   "resolve": {"axis": {"x": "independent", "y": "independent"}}
  },
  {"width": 205, "height": 259, "title": "Average residual across cone",
   "layer": [
    {"data": {"name": "lines"}, "transform": [{"filter": "datum.p == 4"}], "mark": {"type": "line", "strokeWidth": 2.5},
     "encoding": {
      "x": {"field": "x", "type": "quantitative", "scale": {"domain": [-6, 6], "nice": false, "zero": false},
            "axis": {"title": "y (dB)", "labelOverlap": false, "values": [-6,-5.5,-5,-4.5,-4,-3.5,-3,-2.5,-2,-1.5,-1,-0.5,0,0.5,1,1.5,2,2.5,3,3.5,4,4.5,5,5.5,6], "format": "d", "labelExpr": "abs(datum.value % 2) < 0.01 ? replace(datum.label, '−', '-') : ''", "tickSize": {"condition": {"test": "abs(datum.value % 2) < 0.01", "value": -6}, "value": -3}}},
      "y": {"field": "y", "type": "quantitative", "scale": {"domain": [-0.5, 0.5], "nice": false, "zero": false},
            "axis": {"title": "dB", "labelOverlap": false, "values": [-0.5,-0.45,-0.4,-0.35,-0.3,-0.25,-0.2,-0.15,-0.1,-0.05,0,0.05,0.1,0.15,0.2,0.25,0.3,0.35,0.4,0.45,0.5], "format": ".1f", "labelExpr": "abs(round(datum.value*100)) % 20 == 0 ? replace(datum.label, '−', '-') : ''", "tickSize": {"condition": {"test": "abs(round(datum.value*100)) % 20 == 0", "value": -6}, "value": -3}}},
      "color": {"field": "s", "type": "nominal", "scale": {"domain": ["red", "blue", "green", "black"], "range": ["#ff1a1a", "#1a1aff", "#22dd22", "#1a1a1a"]}, "legend": null}
     }},
    {"data": {"name": "lines"}, "transform": [{"filter": "datum.p == 4"}], "mark": {"type": "line", "opacity": 0},
     "encoding": {
      "x": {"field": "x", "type": "quantitative", "scale": {"domain": [-6, 6], "nice": false, "zero": false},
            "axis": {"orient": "top", "title": null, "labels": false, "values": [-6,-5.5,-5,-4.5,-4,-3.5,-3,-2.5,-2,-1.5,-1,-0.5,0,0.5,1,1.5,2,2.5,3,3.5,4,4.5,5,5.5,6], "tickSize": {"condition": {"test": "abs(datum.value % 2) < 0.01", "value": -6}, "value": -3}}},
      "y": {"field": "y", "type": "quantitative", "scale": {"domain": [-0.5, 0.5], "nice": false, "zero": false},
            "axis": {"orient": "right", "title": null, "labels": false, "values": [-0.5,-0.45,-0.4,-0.35,-0.3,-0.25,-0.2,-0.15,-0.1,-0.05,0,0.05,0.1,0.15,0.2,0.25,0.3,0.35,0.4,0.45,0.5], "tickSize": {"condition": {"test": "abs(round(datum.value*100)) % 20 == 0", "value": -6}, "value": -3}}},
      "detail": {"field": "s"}
     }}
   ],
   "resolve": {"axis": {"x": "independent", "y": "independent"}}
  },
  {"width": 207, "height": 259, "title": "Average residual along cone",
   "layer": [
    {"data": {"name": "lines"}, "transform": [{"filter": "datum.p == 5"}], "mark": {"type": "line", "strokeWidth": 2.5},
     "encoding": {
      "x": {"field": "x", "type": "quantitative", "scale": {"domain": [-24.8, -10], "nice": false, "zero": false},
            "axis": {"title": "x (dB)", "labelOverlap": false, "values": [-24,-23.5,-23,-22.5,-22,-21.5,-21,-20.5,-20,-19.5,-19,-18.5,-18,-17.5,-17,-16.5,-16,-15.5,-15,-14.5,-14,-13.5,-13,-12.5,-12,-11.5,-11,-10.5,-10], "format": "d", "labelExpr": "abs(datum.value % 2) < 0.01 ? replace(datum.label, '−', '-') : ''", "tickSize": {"condition": {"test": "abs(datum.value % 2) < 0.01", "value": -6}, "value": -3}}},
      "y": {"field": "y", "type": "quantitative", "scale": {"domain": [-0.5, 0.5], "nice": false, "zero": false},
            "axis": {"title": "dB", "labelOverlap": false, "values": [-0.5,-0.45,-0.4,-0.35,-0.3,-0.25,-0.2,-0.15,-0.1,-0.05,0,0.05,0.1,0.15,0.2,0.25,0.3,0.35,0.4,0.45,0.5], "format": ".1f", "labelExpr": "abs(round(datum.value*100)) % 20 == 0 ? replace(datum.label, '−', '-') : ''", "tickSize": {"condition": {"test": "abs(round(datum.value*100)) % 20 == 0", "value": -6}, "value": -3}}},
      "color": {"field": "s", "type": "nominal", "scale": {"domain": ["red", "blue", "green", "black"], "range": ["#ff1a1a", "#1a1aff", "#22dd22", "#1a1a1a"]}, "legend": null}
     }},
    {"data": {"name": "lines"}, "transform": [{"filter": "datum.p == 5"}], "mark": {"type": "line", "opacity": 0},
     "encoding": {
      "x": {"field": "x", "type": "quantitative", "scale": {"domain": [-24.8, -10], "nice": false, "zero": false},
            "axis": {"orient": "top", "title": null, "labels": false, "values": [-24.5,-24,-23.5,-23,-22.5,-22,-21.5,-21,-20.5,-20,-19.5,-19,-18.5,-18,-17.5,-17,-16.5,-16,-15.5,-15,-14.5,-14,-13.5,-13,-12.5,-12,-11.5,-11,-10.5,-10], "tickSize": {"condition": {"test": "abs(datum.value % 2) < 0.01", "value": -6}, "value": -3}}},
      "y": {"field": "y", "type": "quantitative", "scale": {"domain": [-0.5, 0.5], "nice": false, "zero": false},
            "axis": {"orient": "right", "title": null, "labels": false, "values": [-0.5,-0.45,-0.4,-0.35,-0.3,-0.25,-0.2,-0.15,-0.1,-0.05,0,0.05,0.1,0.15,0.2,0.25,0.3,0.35,0.4,0.45,0.5], "tickSize": {"condition": {"test": "abs(round(datum.value*100)) % 20 == 0", "value": -6}, "value": -3}}},
      "detail": {"field": "s"}
     }},
    {"data": {"name": "notes"}, "transform": [{"filter": "datum.p == 5"}], "mark": {"type": "text", "font": "Liberation Sans", "fontSize": 14, "color": "#333333"},
     "encoding": {"x": {"field": "x", "type": "quantitative", "axis": null, "scale": {"domain": [-24.8, -10], "nice": false, "zero": false}}, "y": {"field": "y", "type": "quantitative", "axis": null, "scale": {"domain": [-0.5, 0.5], "nice": false, "zero": false}}, "text": {"field": "label"}}}
   ],
   "resolve": {"axis": {"x": "independent", "y": "independent"}}
  },
  {"width": 206, "height": 259, "title": "Average residual across cone",
   "layer": [
    {"data": {"name": "lines"}, "transform": [{"filter": "datum.p == 6"}], "mark": {"type": "line", "strokeWidth": 2.5},
     "encoding": {
      "x": {"field": "x", "type": "quantitative", "scale": {"domain": [-4, 4], "nice": false, "zero": false},
            "axis": {"title": "y (dB)", "labelOverlap": false, "values": [-4,-3.5,-3,-2.5,-2,-1.5,-1,-0.5,0,0.5,1,1.5,2,2.5,3,3.5,4], "format": "d", "labelExpr": "abs(datum.value % 2) < 0.01 ? replace(datum.label, '−', '-') : ''", "tickSize": {"condition": {"test": "abs(datum.value % 2) < 0.01", "value": -6}, "value": -3}}},
      "y": {"field": "y", "type": "quantitative", "scale": {"domain": [-0.5, 0.5], "nice": false, "zero": false},
            "axis": {"title": "dB", "labelOverlap": false, "values": [-0.5,-0.45,-0.4,-0.35,-0.3,-0.25,-0.2,-0.15,-0.1,-0.05,0,0.05,0.1,0.15,0.2,0.25,0.3,0.35,0.4,0.45,0.5], "format": ".1f", "labelExpr": "abs(round(datum.value*100)) % 20 == 0 ? replace(datum.label, '−', '-') : ''", "tickSize": {"condition": {"test": "abs(round(datum.value*100)) % 20 == 0", "value": -6}, "value": -3}}},
      "color": {"field": "s", "type": "nominal", "scale": {"domain": ["red", "blue", "green", "black"], "range": ["#ff1a1a", "#1a1aff", "#22dd22", "#1a1a1a"]}, "legend": null}
     }},
    {"data": {"name": "lines"}, "transform": [{"filter": "datum.p == 6"}], "mark": {"type": "line", "opacity": 0},
     "encoding": {
      "x": {"field": "x", "type": "quantitative", "scale": {"domain": [-4, 4], "nice": false, "zero": false},
            "axis": {"orient": "top", "title": null, "labels": false, "values": [-4,-3.5,-3,-2.5,-2,-1.5,-1,-0.5,0,0.5,1,1.5,2,2.5,3,3.5,4], "tickSize": {"condition": {"test": "abs(datum.value % 2) < 0.01", "value": -6}, "value": -3}}},
      "y": {"field": "y", "type": "quantitative", "scale": {"domain": [-0.5, 0.5], "nice": false, "zero": false},
            "axis": {"orient": "right", "title": null, "labels": false, "values": [-0.5,-0.45,-0.4,-0.35,-0.3,-0.25,-0.2,-0.15,-0.1,-0.05,0,0.05,0.1,0.15,0.2,0.25,0.3,0.35,0.4,0.45,0.5], "tickSize": {"condition": {"test": "abs(round(datum.value*100)) % 20 == 0", "value": -6}, "value": -3}}},
      "detail": {"field": "s"}
     }}
   ],
   "resolve": {"axis": {"x": "independent", "y": "independent"}}
  },
  {"width": 210, "height": 259, "title": "Average residual along cone",
   "layer": [
    {"data": {"name": "lines"}, "transform": [{"filter": "datum.p == 7"}], "mark": {"type": "line", "strokeWidth": 2.5},
     "encoding": {
      "x": {"field": "x", "type": "quantitative", "scale": {"domain": [-35, -15], "nice": false, "zero": false},
            "axis": {"title": "x (dB)", "labelOverlap": false, "values": [-35,-34,-33,-32,-31,-30,-29,-28,-27,-26,-25,-24,-23,-22,-21,-20,-19,-18,-17,-16,-15], "format": "d", "labelExpr": "abs(datum.value % 5) < 0.01 ? replace(datum.label, '−', '-') : ''", "tickSize": {"condition": {"test": "abs(datum.value % 5) < 0.01", "value": -6}, "value": -3}}},
      "y": {"field": "y", "type": "quantitative", "scale": {"domain": [-0.5, 0.5], "nice": false, "zero": false},
            "axis": {"title": "dB", "labelOverlap": false, "values": [-0.5,-0.45,-0.4,-0.35,-0.3,-0.25,-0.2,-0.15,-0.1,-0.05,0,0.05,0.1,0.15,0.2,0.25,0.3,0.35,0.4,0.45,0.5], "format": ".1f", "labelExpr": "abs(round(datum.value*100)) % 20 == 0 ? replace(datum.label, '−', '-') : ''", "tickSize": {"condition": {"test": "abs(round(datum.value*100)) % 20 == 0", "value": -6}, "value": -3}}},
      "color": {"field": "s", "type": "nominal", "scale": {"domain": ["red", "blue", "green", "black"], "range": ["#ff1a1a", "#1a1aff", "#22dd22", "#1a1a1a"]}, "legend": null}
     }},
    {"data": {"name": "lines"}, "transform": [{"filter": "datum.p == 7"}], "mark": {"type": "line", "opacity": 0},
     "encoding": {
      "x": {"field": "x", "type": "quantitative", "scale": {"domain": [-35, -15], "nice": false, "zero": false},
            "axis": {"orient": "top", "title": null, "labels": false, "values": [-35,-34,-33,-32,-31,-30,-29,-28,-27,-26,-25,-24,-23,-22,-21,-20,-19,-18,-17,-16,-15], "tickSize": {"condition": {"test": "abs(datum.value % 5) < 0.01", "value": -6}, "value": -3}}},
      "y": {"field": "y", "type": "quantitative", "scale": {"domain": [-0.5, 0.5], "nice": false, "zero": false},
            "axis": {"orient": "right", "title": null, "labels": false, "values": [-0.5,-0.45,-0.4,-0.35,-0.3,-0.25,-0.2,-0.15,-0.1,-0.05,0,0.05,0.1,0.15,0.2,0.25,0.3,0.35,0.4,0.45,0.5], "tickSize": {"condition": {"test": "abs(round(datum.value*100)) % 20 == 0", "value": -6}, "value": -3}}},
      "detail": {"field": "s"}
     }},
    {"data": {"name": "notes"}, "transform": [{"filter": "datum.p == 7"}], "mark": {"type": "text", "font": "Liberation Sans", "fontSize": 14, "color": "#333333"},
     "encoding": {"x": {"field": "x", "type": "quantitative", "axis": null, "scale": {"domain": [-35, -15], "nice": false, "zero": false}}, "y": {"field": "y", "type": "quantitative", "axis": null, "scale": {"domain": [-0.5, 0.5], "nice": false, "zero": false}}, "text": {"field": "label"}}}
   ],
   "resolve": {"axis": {"x": "independent", "y": "independent"}}
  },
  {"width": 205, "height": 259, "title": "Average residual across cone",
   "layer": [
    {"data": {"name": "lines"}, "transform": [{"filter": "datum.p == 8"}], "mark": {"type": "line", "strokeWidth": 2.5},
     "encoding": {
      "x": {"field": "x", "type": "quantitative", "scale": {"domain": [-6, 6], "nice": false, "zero": false},
            "axis": {"title": "y (dB)", "labelOverlap": false, "values": [-6,-5.5,-5,-4.5,-4,-3.5,-3,-2.5,-2,-1.5,-1,-0.5,0,0.5,1,1.5,2,2.5,3,3.5,4,4.5,5,5.5,6], "format": "d", "labelExpr": "abs(datum.value % 2) < 0.01 ? replace(datum.label, '−', '-') : ''", "tickSize": {"condition": {"test": "abs(datum.value % 2) < 0.01", "value": -6}, "value": -3}}},
      "y": {"field": "y", "type": "quantitative", "scale": {"domain": [-0.5, 0.5], "nice": false, "zero": false},
            "axis": {"title": "dB", "labelOverlap": false, "values": [-0.5,-0.45,-0.4,-0.35,-0.3,-0.25,-0.2,-0.15,-0.1,-0.05,0,0.05,0.1,0.15,0.2,0.25,0.3,0.35,0.4,0.45,0.5], "format": ".1f", "labelExpr": "abs(round(datum.value*100)) % 20 == 0 ? replace(datum.label, '−', '-') : ''", "tickSize": {"condition": {"test": "abs(round(datum.value*100)) % 20 == 0", "value": -6}, "value": -3}}},
      "color": {"field": "s", "type": "nominal", "scale": {"domain": ["red", "blue", "green", "black"], "range": ["#ff1a1a", "#1a1aff", "#22dd22", "#1a1a1a"]}, "legend": null}
     }},
    {"data": {"name": "lines"}, "transform": [{"filter": "datum.p == 8"}], "mark": {"type": "line", "opacity": 0},
     "encoding": {
      "x": {"field": "x", "type": "quantitative", "scale": {"domain": [-6, 6], "nice": false, "zero": false},
            "axis": {"orient": "top", "title": null, "labels": false, "values": [-6,-5.5,-5,-4.5,-4,-3.5,-3,-2.5,-2,-1.5,-1,-0.5,0,0.5,1,1.5,2,2.5,3,3.5,4,4.5,5,5.5,6], "tickSize": {"condition": {"test": "abs(datum.value % 2) < 0.01", "value": -6}, "value": -3}}},
      "y": {"field": "y", "type": "quantitative", "scale": {"domain": [-0.5, 0.5], "nice": false, "zero": false},
            "axis": {"orient": "right", "title": null, "labels": false, "values": [-0.5,-0.45,-0.4,-0.35,-0.3,-0.25,-0.2,-0.15,-0.1,-0.05,0,0.05,0.1,0.15,0.2,0.25,0.3,0.35,0.4,0.45,0.5], "tickSize": {"condition": {"test": "abs(round(datum.value*100)) % 20 == 0", "value": -6}, "value": -3}}},
      "detail": {"field": "s"}
     }}
   ],
   "resolve": {"axis": {"x": "independent", "y": "independent"}}
  }
]
}
